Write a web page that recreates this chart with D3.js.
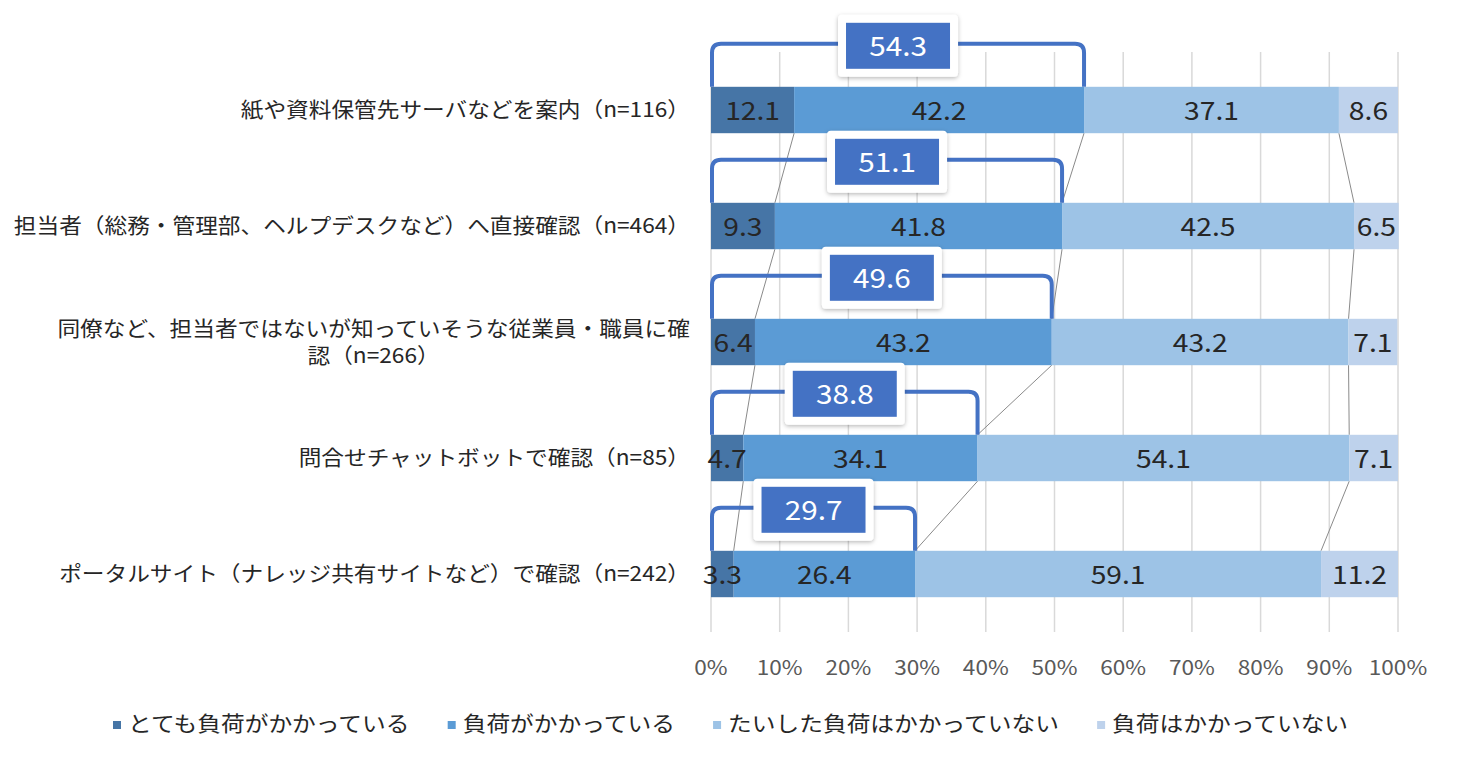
<!DOCTYPE html>
<html><head><meta charset="utf-8">
<script src="https://cdn.jsdelivr.net/npm/d3@7"></script>
<style>
html,body{margin:0;padding:0;background:#fff;}
svg{display:block;font-family:"Noto Sans CJK JP","Noto Sans",sans-serif;}
</style></head>
<body><svg id="chart" width="1464" height="763"></svg>
<script>
const categories = [
  "紙や資料保管先サーバなどを案内（n=116）",
  "担当者（総務・管理部、ヘルプデスクなど）へ直接確認（n=464）",
  "同僚など、担当者ではないが知っていそうな従業員・職員に確認（n=266）",
  "問合せチャットボットで確認（n=85）",
  "ポータルサイト（ナレッジ共有サイトなど）で確認（n=242）"
];
const seriesNames = ["とても負荷がかかっている","負荷がかかっている","たいした負荷はかかっていない","負荷はかかっていない"];
const veryHeavy   = [12.1, 9.3, 6.4, 4.7, 3.3];
const heavy       = [42.2, 41.8, 43.2, 34.1, 26.4];
const notMuch     = [37.1, 42.5, 43.2, 54.1, 59.1];
const none        = [8.6, 6.5, 7.1, 7.1, 11.2];
const bracketTotals = [54.3, 51.1, 49.6, 38.8, 29.7];
const tickValues = [0,10,20,30,40,50,60,70,80,90,100];
const tickLabels = ["0%","10%","20%","30%","40%","50%","60%","70%","80%","90%","100%"];

const colors = ["#4675A6","#5B9BD5","#9DC3E6","#BED2EC"];
const seriesData = [veryHeavy, heavy, notMuch, none];

const svg = d3.select("#chart");
const x = d3.scaleLinear().domain([0,100]).range([711,1398]);
const y = d3.scaleBand().domain(categories).range([52,632]).paddingInner(0.6).paddingOuter(0.3);

const rows = categories.map((c,i)=>{ const o={cat:c}; seriesNames.forEach((s,j)=>o[s]=seriesData[j][i]); return o; });
const stacked = d3.stack().keys(seriesNames)(rows);

// defs
const defs = svg.append("defs");
const f = defs.append("filter").attr("id","shadow").attr("x","-20%").attr("y","-30%").attr("width","140%").attr("height","160%");
f.append("feDropShadow").attr("dx",0).attr("dy",1.5).attr("stdDeviation",2).attr("flood-color","#000").attr("flood-opacity",0.28);

function sText(g, xx, yy, txt, size, sx, anchor, fill){
  const gg = g.append("g").attr("transform",`translate(${xx},${yy}) scale(${sx},1)`);
  return gg.append("text").attr("x",0).attr("y",0).attr("dy","0.35em")
    .attr("text-anchor",anchor).attr("font-size",size).attr("fill",fill).text(txt);
}

// gridlines
svg.append("g").selectAll("line").data(tickValues).join("line")
  .attr("x1",d=>x(d)).attr("x2",d=>x(d)).attr("y1",52).attr("y2",632)
  .attr("stroke","#d9d9d9").attr("stroke-width",1.5);

// tick labels
const tg = svg.append("g");
tickValues.forEach((v,i)=>sText(tg, x(v), 668, tickLabels[i], 20, 1.13, "middle", "#595959"));

// connector lines between bars
const lg = svg.append("g");
for (let k=0;k<3;k++){
  const layer = stacked[k];
  for (let i=0;i<categories.length-1;i++){
    lg.append("line")
      .attr("x1",x(layer[i][1])).attr("y1",y(categories[i])+y.bandwidth())
      .attr("x2",x(layer[i+1][1])).attr("y2",y(categories[i+1]))
      .attr("stroke","#8a8a8a").attr("stroke-width",1);
  }
}

// bars
const bg = svg.append("g");
stacked.forEach((layer,k)=>{
  bg.append("g").attr("fill",colors[k]).selectAll("rect").data(layer).join("rect")
    .attr("x",d=>x(d[0])).attr("width",d=>x(d[1])-x(d[0]))
    .attr("y",d=>y(d.data.cat)).attr("height",y.bandwidth());
});
// data labels
const dl = svg.append("g");
stacked.forEach((layer,k)=>{
  layer.forEach(d=>{
    sText(dl, (x(d[0])+x(d[1]))/2, y(d.data.cat)+y.bandwidth()/2+1, d3.format(".1f")(d[1]-d[0]), 25, 1.13, "middle", "#262626");
  });
});

// brackets
const br = svg.append("g");
const gap = 43, r = 9;
bracketTotals.forEach((v,i)=>{
  const top = y(categories[i]);
  const yt = top - gap;
  const x0 = x(0)+1, x1 = x(v);
  const p = d3.path();
  p.moveTo(x0, top);
  p.lineTo(x0, yt+r);
  p.quadraticCurveTo(x0, yt, x0+r, yt);
  p.lineTo(x1-r, yt);
  p.quadraticCurveTo(x1, yt, x1, yt+r);
  p.lineTo(x1, top);
  br.append("path").attr("d",p.toString()).attr("fill","none").attr("stroke","#4472C4").attr("stroke-width",4).attr("stroke-linejoin","round");
  const cx = (x0+x1)/2, cy = yt+2;
  const bw = 104, bh = 46, pad = 8;
  br.append("rect").attr("x",cx-bw/2-pad).attr("y",cy-bh/2-pad).attr("width",bw+2*pad).attr("height",bh+2*pad)
    .attr("rx",4).attr("fill","#fff").attr("filter","url(#shadow)");
  br.append("rect").attr("x",cx-bw/2).attr("y",cy-bh/2).attr("width",bw).attr("height",bh).attr("fill","#4472C4");
  sText(br, cx, cy+1, d3.format(".1f")(v), 27, 1.1, "middle", "#fff");
});

// category labels with wrapping
const cg = svg.append("g");
const catSize = 21, catSX = 1.08, rightX = 690, maxW = 690, lineW = 650;
const meas = svg.append("text").attr("font-size",catSize).attr("visibility","hidden");
function w(t){ meas.text(t); return meas.node().getComputedTextLength()*catSX; }
categories.forEach(c=>{
  let lines = [c];
  if (w(c) > maxW){
    lines = []; let cur = "";
    for (const ch of c){
      if (w(cur+ch) > lineW && cur){ lines.push(cur); cur = ch; } else cur += ch;
    }
    if (cur) lines.push(cur);
  }
  const cy = y(c)+y.bandwidth()/2;
  const lh = 27;
  if (lines.length===1){
    sText(cg, rightX, cy, lines[0], catSize, catSX, "end", "#262626");
  } else {
    const bw = d3.max(lines, w);
    const mx = rightX - bw/2;
    lines.forEach((l,j)=>sText(cg, mx, cy + (j-(lines.length-1)/2)*lh, l, catSize, catSX, "middle", "#262626"));
  }
});
meas.remove();

// legend
const leg = svg.append("g");
let lx = 113; const ly = 724;
const lmeas = svg.append("text").attr("font-size",21).attr("visibility","hidden");
seriesNames.forEach((s,k)=>{
  leg.append("rect").attr("x",lx).attr("y",ly-3).attr("width",8).attr("height",8).attr("fill",colors[k]);
  sText(leg, lx+15, ly, s, 21, 1.13, "start", "#262626");
  lmeas.text(s);
  lx += 15 + lmeas.node().getComputedTextLength()*1.13 + 38;
});
lmeas.remove();
</script></body></html>
